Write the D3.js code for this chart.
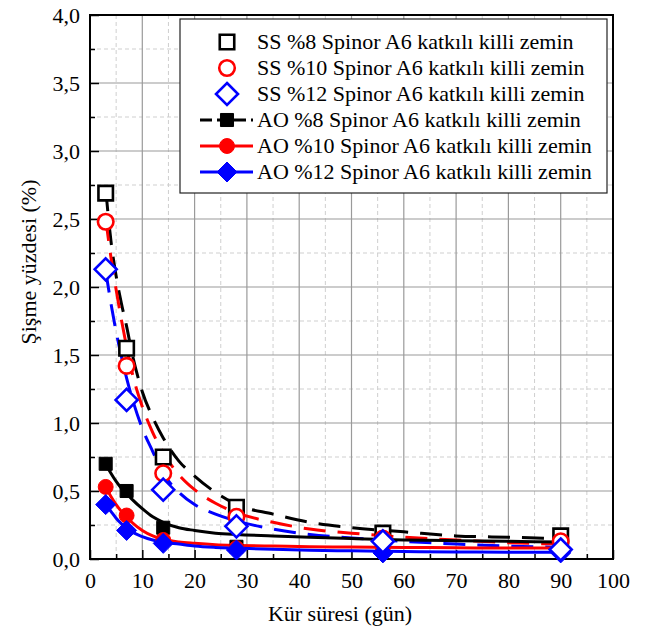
<!DOCTYPE html>
<html>
<head>
<meta charset="utf-8">
<script src="https://cdn.jsdelivr.net/npm/d3@7"></script>
<style>
body { margin: 0; background: #fff; }
text { font-family: "Liberation Serif", "Times New Roman", serif; }
</style>
</head>
<body>
<script>
// measured points (day, swell %)
var days = [3, 7, 14, 28, 56, 90];
var ss8  = [2.69, 1.55, 0.75, 0.38, 0.19, 0.17];
var ss10 = [2.48, 1.42, 0.63, 0.31, 0.15, 0.13];
var ss12 = [2.13, 1.17, 0.51, 0.24, 0.13, 0.07];
var ao8  = [0.70, 0.50, 0.23, 0.09, 0.13, 0.13];
var ao10 = [0.53, 0.32, 0.14, 0.08, 0.08, 0.08];
var ao12 = [0.40, 0.21, 0.115, 0.066, 0.045, 0.045];

// fitted curves
var fitX    = [3, 4, 5, 6, 7, 8, 10, 12, 14, 17, 20, 24, 28, 35, 42, 50, 60, 70, 80, 90];
var fitSS8  = [2.72, 2.34, 2.08, 1.88, 1.71, 1.52, 1.23, 1.04, 0.89, 0.72, 0.61, 0.49, 0.40, 0.33, 0.27, 0.23, 0.20, 0.17, 0.16, 0.15];
var fitSS10 = [2.50, 2.22, 1.98, 1.76, 1.56, 1.38, 1.12, 0.93, 0.78, 0.62, 0.51, 0.41, 0.34, 0.27, 0.22, 0.19, 0.16, 0.14, 0.12, 0.11];
var fitSS12 = [2.12, 1.88, 1.67, 1.49, 1.33, 1.19, 0.96, 0.79, 0.63, 0.49, 0.40, 0.33, 0.28, 0.22, 0.18, 0.155, 0.13, 0.11, 0.095, 0.085];
var fitAO8  = [0.70, 0.63, 0.57, 0.52, 0.48, 0.44, 0.37, 0.31, 0.27, 0.23, 0.21, 0.19, 0.18, 0.17, 0.16, 0.15, 0.14, 0.135, 0.13, 0.125];
var fitAO10 = [0.53, 0.46, 0.40, 0.35, 0.31, 0.27, 0.21, 0.17, 0.145, 0.125, 0.115, 0.105, 0.10, 0.095, 0.09, 0.088, 0.085, 0.083, 0.08, 0.08];
var fitAO12 = [0.40, 0.35, 0.30, 0.26, 0.23, 0.20, 0.165, 0.14, 0.125, 0.11, 0.095, 0.085, 0.08, 0.072, 0.065, 0.06, 0.055, 0.052, 0.05, 0.05];

var legendLabels = [
  'SS %8 Spinor A6 katkılı killi zemin',
  'SS %10 Spinor A6 katkılı killi zemin',
  'SS %12 Spinor A6 katkılı killi zemin',
  'AO %8 Spinor A6 katkılı killi zemin',
  'AO %10 Spinor A6 katkılı killi zemin',
  'AO %12 Spinor A6 katkılı killi zemin'
];

var W = 655, H = 632;
var pL = 90, pR = 613, pT = 15, pB = 559;
var fs = 22;

var svg = d3.select('body').append('svg')
    .attr('width', W)
    .attr('height', H);

var x = d3.scaleLinear().domain([0, 100]).range([pL, pR]);
var y = d3.scaleLinear().domain([0, 4]).range([pB, pT]);

var comma = d3.formatLocale({decimal: ',', thousands: '.', grouping: [3], currency: ['', '']});
var fmt = comma.format('.1f');

// grid: minor dashed, major solid
var g = svg.append('g');
g.selectAll('.vminor').data(d3.range(5, 100, 10)).enter().append('line')
    .attr('x1', function(d){ return x(d); }).attr('x2', function(d){ return x(d); })
    .attr('y1', pT).attr('y2', pB)
    .attr('stroke', '#cfcfcf').attr('stroke-dasharray', '4,3');
g.selectAll('.hminor').data(d3.range(0.25, 4, 0.5)).enter().append('line')
    .attr('y1', function(d){ return y(d); }).attr('y2', function(d){ return y(d); })
    .attr('x1', pL).attr('x2', pR)
    .attr('stroke', '#cfcfcf').attr('stroke-dasharray', '4,3');
g.selectAll('.vmajor').data(d3.range(10, 100, 10)).enter().append('line')
    .attr('x1', function(d){ return x(d); }).attr('x2', function(d){ return x(d); })
    .attr('y1', pT).attr('y2', pB)
    .attr('stroke', '#9a9a9a').attr('stroke-width', 1.2);
g.selectAll('.hmajor').data(d3.range(0.5, 4, 0.5)).enter().append('line')
    .attr('y1', function(d){ return y(d); }).attr('y2', function(d){ return y(d); })
    .attr('x1', pL).attr('x2', pR)
    .attr('stroke', '#9a9a9a').attr('stroke-width', 1.2);

// axes with inward ticks
var xAxis = svg.append('g').attr('transform', 'translate(0,' + pB + ')')
    .call(d3.axisBottom(x).tickValues(d3.range(0, 101, 10)).tickSizeInner(-9).tickSizeOuter(0).tickPadding(13));
var xMinor = svg.append('g').attr('transform', 'translate(0,' + pB + ')')
    .call(d3.axisBottom(x).tickValues(d3.range(5, 100, 10)).tickSizeInner(-5).tickSizeOuter(0).tickFormat(''));
var yAxis = svg.append('g').attr('transform', 'translate(' + pL + ',0)')
    .call(d3.axisLeft(y).tickValues(d3.range(0, 4.01, 0.5)).tickSizeInner(-9).tickSizeOuter(0).tickPadding(10).tickFormat(fmt));
var yMinor = svg.append('g').attr('transform', 'translate(' + pL + ',0)')
    .call(d3.axisLeft(y).tickValues(d3.range(0.25, 4, 0.5)).tickSizeInner(-5).tickSizeOuter(0).tickFormat(''));

[xAxis, xMinor, yAxis, yMinor].forEach(function(a){
  a.select('.domain').remove();
  a.selectAll('line').attr('stroke', '#000').attr('stroke-width', 1.5);
  a.selectAll('text').attr('font-size', fs).attr('fill', '#000')
    .style('font-family', '"Liberation Serif", "Times New Roman", serif');
});

svg.append('rect')
    .attr('x', pL).attr('y', pT)
    .attr('width', pR - pL).attr('height', pB - pT)
    .attr('fill', 'none').attr('stroke', '#000').attr('stroke-width', 2);

svg.append('text')
    .attr('x', 340).attr('y', 621)
    .attr('text-anchor', 'middle').attr('font-size', fs)
    .text('Kür süresi (gün)');
svg.append('text')
    .attr('transform', 'translate(36,262) rotate(-90)')
    .attr('text-anchor', 'middle').attr('font-size', fs)
    .text('Şişme yüzdesi (%)');

var line = d3.line()
    .x(function(d){ return x(d[0]); })
    .y(function(d){ return y(d[1]); })
    .curve(d3.curveMonotoneX);

function pairs(xs, ys){ return xs.map(function(v, i){ return [v, ys[i]]; }); }

var fits = [
  {vals: fitSS8, color: '#000', dash: '22,12'},
  {vals: fitSS10, color: '#ff0000', dash: '22,12'},
  {vals: fitSS12, color: '#0000ff', dash: '22,12'},
  {vals: fitAO8, color: '#000', dash: null},
  {vals: fitAO10, color: '#ff0000', dash: null},
  {vals: fitAO12, color: '#0000ff', dash: null}
];
svg.append('g').selectAll('path').data(fits).enter().append('path')
    .attr('d', function(d){ return line(pairs(fitX, d.vals)); })
    .attr('fill', 'none')
    .attr('stroke', function(d){ return d.color; })
    .attr('stroke-width', 3)
    .attr('stroke-dasharray', function(d){ return d.dash; });

var symSquare = d3.symbol().type(d3.symbolSquare);
var symCircle = d3.symbol().type(d3.symbolCircle);
var diamondPath = function(r){ return 'M0,' + (-r) + 'L' + r + ',0L0,' + r + 'L' + (-r) + ',0Z'; };

var series = [
  {vals: ss8, color: '#000', shape: 'square', open: true},
  {vals: ss10, color: '#ff0000', shape: 'circle', open: true},
  {vals: ss12, color: '#0000ff', shape: 'diamond', open: true},
  {vals: ao8, color: '#000', shape: 'square', open: false},
  {vals: ao10, color: '#ff0000', shape: 'circle', open: false},
  {vals: ao12, color: '#0000ff', shape: 'diamond', open: false}
];

function shapePath(s){
  if (s.shape === 'square') return symSquare.size(s.open ? 210 : 170)();
  if (s.shape === 'circle') return symCircle.size(s.open ? 190 : 175)();
  return diamondPath(s.open ? 11 : 10);
}

function drawMarkers(gg, s, pts){
  gg.selectAll('path').data(pts).enter().append('path')
      .attr('d', shapePath(s))
      .attr('transform', function(d){ return 'translate(' + x(d[0]) + ',' + y(d[1]) + ')'; })
      .attr('fill', s.open ? '#fff' : s.color)
      .attr('stroke', s.color)
      .attr('stroke-width', s.open ? 2.6 : 1);
}

// filled AO markers first, then open SS markers on top
[3, 4, 5, 0, 1, 2].forEach(function(i){
  var s = series[i];
  drawMarkers(svg.append('g'), s, pairs(days, s.vals));
});

// legend
var lg = svg.append('g');
lg.append('rect')
    .attr('x', 180).attr('y', 19)
    .attr('width', 427).attr('height', 174)
    .attr('fill', '#fff').attr('stroke', '#222').attr('stroke-width', 1.2);

series.forEach(function(s, i){
  var cy = 42 + i * 26;
  var row = lg.append('g');
  if (!s.open) {
    row.append('line')
        .attr('x1', 200).attr('x2', 253).attr('y1', cy).attr('y2', cy)
        .attr('stroke', s.color).attr('stroke-width', 3)
        .attr('stroke-dasharray', i === 3 ? '12,5' : null);
  }
  row.append('path')
      .attr('d', shapePath(s))
      .attr('transform', 'translate(227,' + cy + ')')
      .attr('fill', s.open ? '#fff' : s.color)
      .attr('stroke', s.color)
      .attr('stroke-width', s.open ? 2.6 : 1);
  row.append('text')
      .attr('x', 257).attr('y', cy + 7)
      .attr('font-size', fs)
      .text(legendLabels[i]);
});
</script>
</body>
</html>
